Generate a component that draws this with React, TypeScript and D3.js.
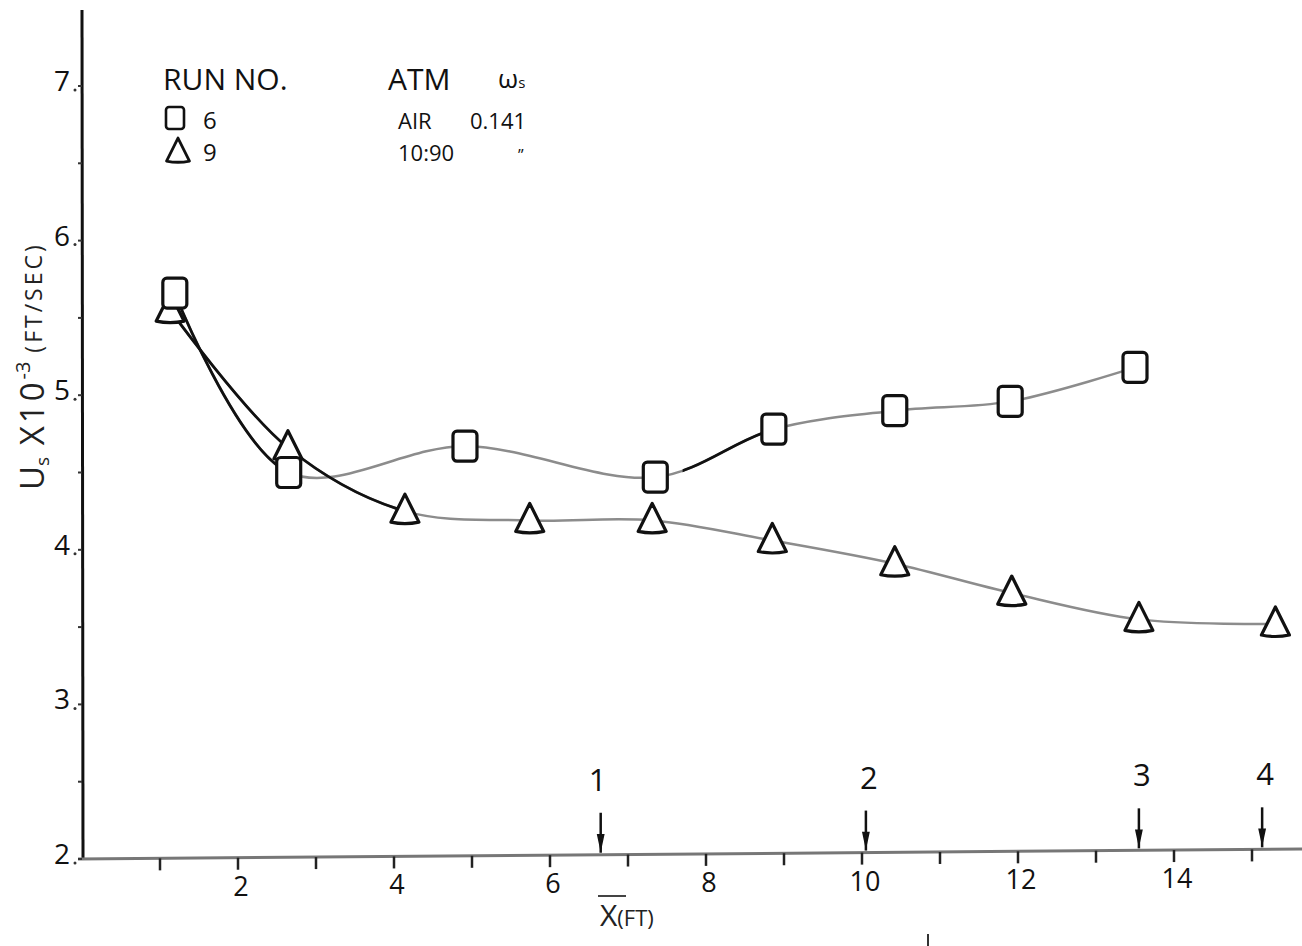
import React from 'react';
import * as d3 from 'd3';

const W = 1302;
const H = 946;

// run 6 (squares), run 9 (triangles)
const run6X = [1.19, 2.65, 4.91, 7.35, 8.87, 10.42, 11.9, 13.5];
const run6Y = [5.66, 4.5, 4.67, 4.47, 4.78, 4.9, 4.96, 5.18];
const run9X = [1.13, 2.64, 4.14, 5.74, 7.31, 8.85, 10.42, 11.92, 13.55, 15.3];
const run9Y = [5.55, 4.66, 4.25, 4.19, 4.19, 4.06, 3.91, 3.72, 3.55, 3.52];

const xTicks = [1, 2, 3, 4, 5, 6, 7, 8, 9, 10, 11, 12, 13, 14, 15];
const xTickLabels = [2, 4, 6, 8, 10, 12, 14];
const yTickLabels = [2, 3, 4, 5, 6, 7];
const yMinorTicks = [2.5, 3.5, 4.5, 5.5, 6.5];

const stationX = [6.65, 10.05, 13.55, 15.13];
const stationLabels = ['1', '2', '3', '4'];

const legendRuns = ['6', '9'];
const legendAtm = ['AIR', '10:90'];
const legendOmega = ['0.141', '\u201D'];

const FONT = '"Open Sans", "DejaVu Sans", sans-serif';

export default function App() {
  const x = d3.scaleLinear().domain([0, 15.5]).range([82, 82 + 78 * 15.5]);
  const y = d3.scaleLinear().domain([2, 7]).range([859, 86]);
  const x0 = x(0);
  const y0 = y(2);
  // the hand-drawn x axis drops ~10px over its length
  const tilt = (v: number) => (v * 10) / 15.65;

  const line = d3
    .line<[number, number]>()
    .x((d) => x(d[0]))
    .y((d) => y(d[1]))
    .curve(d3.curveCatmullRom.alpha(0.5));

  const pts6 = run6X.map((v, i) => [v, run6Y[i]] as [number, number]);
  const pts9 = run9X.map((v, i) => [v, run9Y[i]] as [number, number]);
  const path6 = line(pts6) || '';
  const path9 = line(pts9) || '';

  const tri = (cx: number, cy: number, s = 1) =>
    `M${cx},${cy - 17 * s} L${cx + 14 * s},${cy + 11 * s} Q${cx},${cy + 14 * s} ${cx - 14 * s},${cy + 11 * s} Z`;

  return (
    <svg
      width={W}
      height={H}
      viewBox={`0 0 ${W} ${H}`}
      style={{ position: 'absolute', left: 0, top: 0, background: '#fff' }}
      fontFamily={FONT}
    >
      <defs>
        <clipPath id="dark6">
          <rect x={0} y={0} width={x(2.55)} height={H} />
          <rect x={x(7.7)} y={0} width={x(8.8) - x(7.7)} height={H} />
        </clipPath>
        <clipPath id="dark9">
          <rect x={0} y={0} width={x(4.05)} height={H} />
        </clipPath>
      </defs>

      {/* axes */}
      <line x1={x0} y1={10} x2={x0 + 1} y2={y0} stroke="#111" strokeWidth={3} />
      <line x1={x0 - 4} y1={y0} x2={x(15.65)} y2={y0 - 10} stroke="#777" strokeWidth={3} />

      {xTicks.map((t) => (
        <line key={`xt-${t}`} x1={x(t)} x2={x(t)} y1={y0 - tilt(t)} y2={y0 - tilt(t) + 12} stroke="#222" strokeWidth={2.5} />
      ))}
      {xTickLabels.map((t) => (
        <text key={`xl-${t}`} x={x(t) + 3} y={y0 + 38 - tilt(t)} textAnchor="middle" fontSize={27} fill="#111">
          {t}
        </text>
      ))}

      {yTickLabels.map((t) => (
        <g key={`yl-${t}`}>
          <text x={x0 - 12} y={y(t) + 5} textAnchor="end" fontSize={28} fill="#111">
            {t}
          </text>
          <circle cx={x0 - 7} cy={y(t) + 4} r={1.5} fill="#333" />
          <line x1={x0 - 4} x2={x0} y1={y(t)} y2={y(t)} stroke="#333" strokeWidth={2} />
        </g>
      ))}
      {yMinorTicks.map((t) => (
        <line key={`ym-${t}`} x1={x0 - 4} x2={x0} y1={y(t)} y2={y(t)} stroke="#333" strokeWidth={2} />
      ))}

      {/* axis titles */}
      <text transform={`translate(44, 490) rotate(-90)`} fontSize={33} fill="#222">
        <tspan>U</tspan>
        <tspan fontSize={19} dy={5}>s</tspan>
        <tspan dy={-5} letterSpacing={3}>  X10</tspan>
        <tspan fontSize={20} dy={-14}>-3</tspan>
        <tspan fontSize={23} dy={12} letterSpacing={3}>  (FT/SEC)</tspan>
      </text>
      <text x={600} y={926} fontSize={30} fill="#222">
        X<tspan fontSize={22}>(FT)</tspan>
      </text>
      <line x1={598} x2={626} y1={896} y2={896} stroke="#444" strokeWidth={2} />
      <line x1={928} x2={928} y1={934} y2={946} stroke="#333" strokeWidth={2} />

      {/* station arrows */}
      {stationX.map((s, i) => {
        const sx = x(s);
        const base = y0 - tilt(s);
        return (
          <g key={`st-${i}`}>
            <text x={sx + (i === 0 ? -3 : 3)} y={base - 64} textAnchor="middle" fontSize={31} fill="#111">
              {stationLabels[i]}
            </text>
            <line x1={sx} x2={sx} y1={base - 42} y2={base - 2} stroke="#111" strokeWidth={2.5} />
            <path d={`M${sx - 3},${base - 20} L${sx + 3},${base - 20} L${sx},${base - 6} Z`} fill="#111" stroke="#111" strokeWidth={1.5} />
          </g>
        );
      })}

      {/* curves */}
      <path d={path6} fill="none" stroke="#8c8c8c" strokeWidth={2.5} />
      <path d={path9} fill="none" stroke="#8c8c8c" strokeWidth={2.5} />
      <path d={path6} fill="none" stroke="#111" strokeWidth={2.8} clipPath="url(#dark6)" />
      <path d={path9} fill="none" stroke="#111" strokeWidth={2.8} clipPath="url(#dark9)" />

      {/* markers */}
      {pts9.map((d, i) => (
        <path key={`t-${i}`} d={tri(x(d[0]), y(d[1]))} fill="#fff" stroke="#111" strokeWidth={3.2} strokeLinejoin="round" />
      ))}
      {pts6.map((d, i) => (
        <rect
          key={`s-${i}`}
          x={x(d[0]) - 12}
          y={y(d[1]) - 15}
          width={24}
          height={30}
          rx={4}
          fill="#fff"
          stroke="#111"
          strokeWidth={3.2}
        />
      ))}

      {/* legend */}
      <g fill="#111">
        <text x={163} y={90} fontSize={30}>RUN  NO.</text>
        <text x={388} y={90} fontSize={30}>ATM</text>
        <text x={498} y={88} fontSize={26}>
          ω<tspan fontSize={15}>s</tspan>
        </text>
        {legendRuns.map((r, i) => {
          const ly = 119 + i * 32;
          return (
            <g key={`lg-${i}`}>
              {i === 0 ? (
                <rect x={166} y={ly - 12} width={18} height={22} rx={3} fill="#fff" stroke="#111" strokeWidth={2.6} />
              ) : (
                <path d={tri(178, ly + 1, 0.82)} fill="#fff" stroke="#111" strokeWidth={2.8} strokeLinejoin="round" />
              )}
              <text x={203} y={ly + 10} fontSize={24}>{r}</text>
              <text x={398} y={ly + 10} fontSize={22}>{legendAtm[i]}</text>
              <text x={i === 0 ? 470 : 518} y={ly + 10} fontSize={i === 0 ? 22 : 16}>{legendOmega[i]}</text>
            </g>
          );
        })}
      </g>
    </svg>
  );
}
